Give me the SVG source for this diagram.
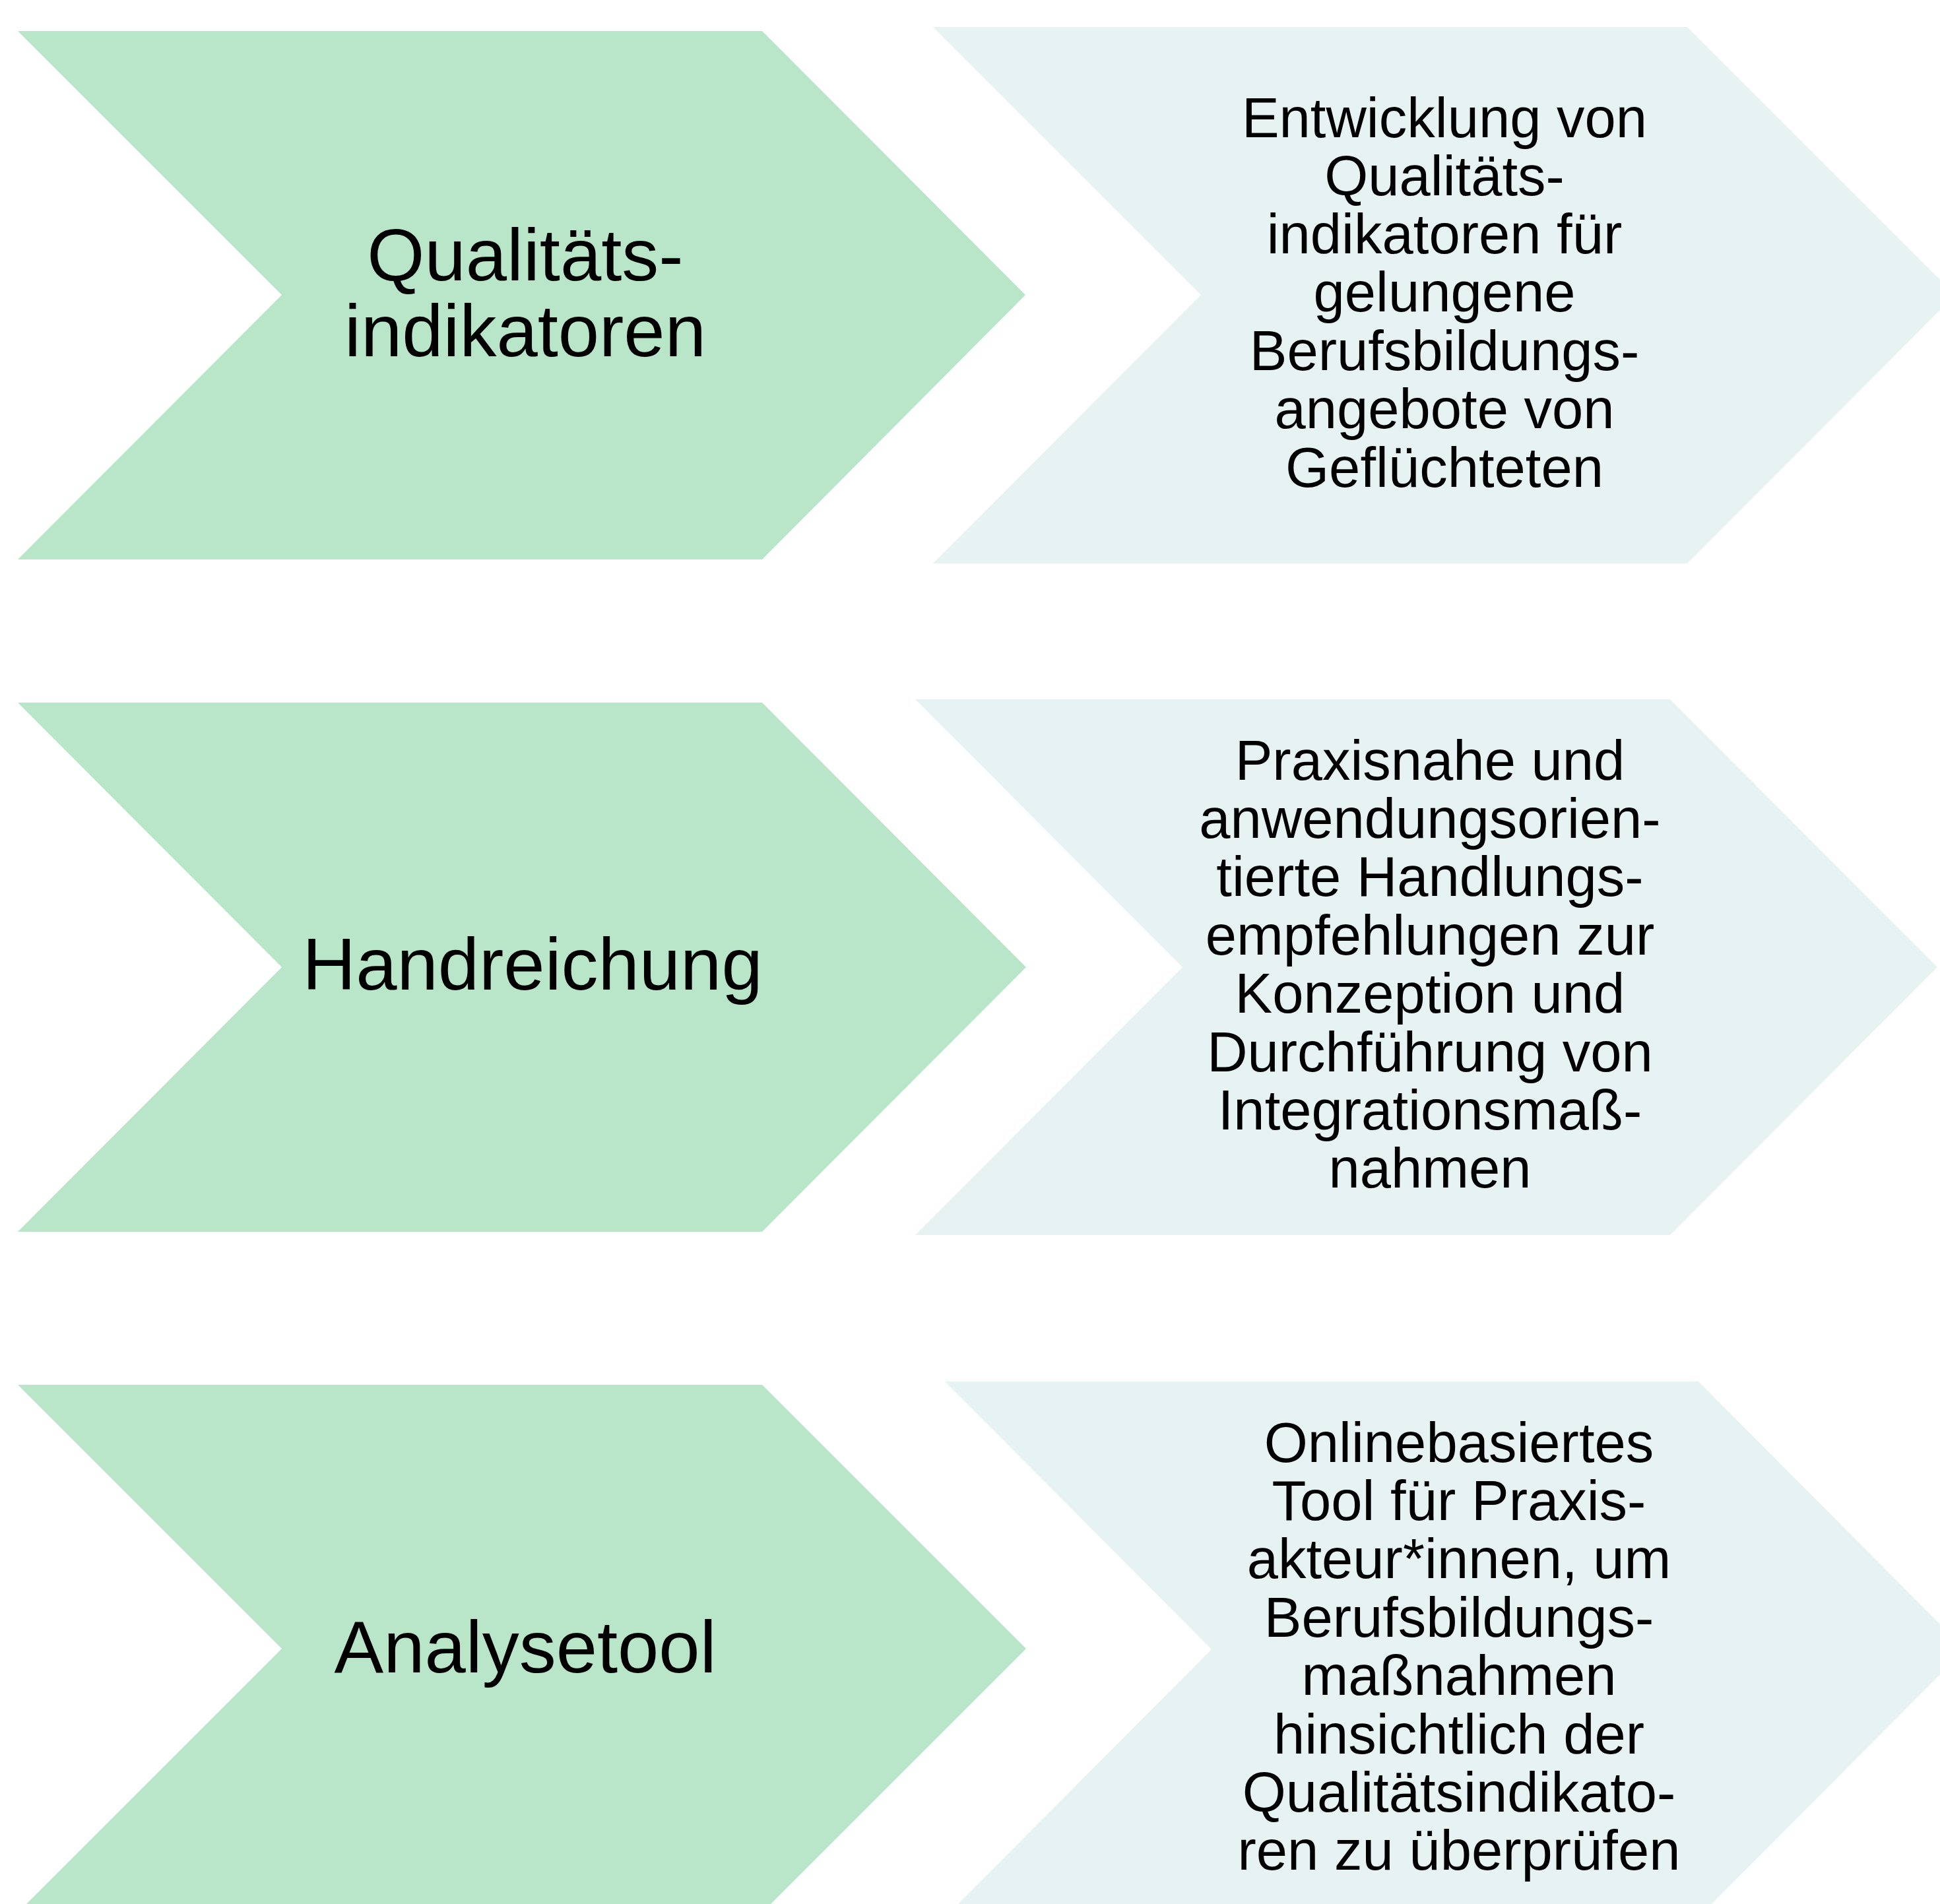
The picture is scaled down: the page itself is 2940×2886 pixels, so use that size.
<svg xmlns="http://www.w3.org/2000/svg" width="2940" height="2886" viewBox="0 0 2940 2886">
  <style>
    .head { fill: #B9E6C9; }
    .body { fill: #E7F3F3; }
    .t { font-family: "Liberation Sans", Arial, sans-serif; fill: #000; text-anchor: middle; }
    .big { font-size: 112px; }
    .small { font-size: 85px; }
  </style>
  <rect width="2940" height="2886" fill="#FFFFFF"/>

  <!-- Row 1 -->
  <g id="node-qualitaetsindikatoren">
    <polygon class="head" points="27,47 1155,47 1554,447 1155,848 27,848 427,447"/>
    <text class="t big"><tspan x="796" y="425">Qualitäts-</tspan><tspan x="796" y="540">indikatoren</tspan></text>
  </g>
  <g id="node-entwicklung">
    <polygon class="body" points="1414,41 2557,41 2963,447 2557,854 1414,854 1820,447"/>
    <text class="t small"><tspan x="2189" y="208">Entwicklung von</tspan><tspan x="2189" y="296">Qualitäts-</tspan><tspan x="2189" y="384">indikatoren für</tspan><tspan x="2189" y="472">gelungene</tspan><tspan x="2189" y="561">Berufsbildungs-</tspan><tspan x="2189" y="649">angebote von</tspan><tspan x="2189" y="738">Geflüchteten</tspan></text>
  </g>

  <!-- Row 2 -->
  <g id="node-handreichung">
    <polygon class="head" points="27,1065 1155,1065 1555,1466 1155,1867 27,1867 427,1466"/>
    <text class="t big" x="807" y="1500">Handreichung</text>
  </g>
  <g id="node-praxisnahe">
    <polygon class="body" points="1387,1060 2531,1060 2936,1466 2531,1872 1387,1872 1792,1466"/>
    <text class="t small"><tspan x="2167" y="1182">Praxisnahe und</tspan><tspan x="2167" y="1270">anwendungsorien-</tspan><tspan x="2167" y="1358">tierte Handlungs-</tspan><tspan x="2167" y="1447">empfehlungen zur</tspan><tspan x="2167" y="1535">Konzeption und</tspan><tspan x="2167" y="1624">Durchführung von</tspan><tspan x="2167" y="1712">Integrationsmaß-</tspan><tspan x="2167" y="1800">nahmen</tspan></text>
  </g>

  <!-- Row 3 -->
  <g id="node-analysetool">
    <polygon class="head" points="27,2099 1155,2099 1555,2499 1155,2899 27,2899 427,2499"/>
    <text class="t big" x="796" y="2535">Analysetool</text>
  </g>
  <g id="node-onlinetool">
    <polygon class="body" points="1432,2094 2574,2094 2978,2500 2574,2906 1432,2906 1836,2500"/>
    <text class="t small"><tspan x="2211" y="2216">Onlinebasiertes</tspan><tspan x="2211" y="2304">Tool für Praxis-</tspan><tspan x="2211" y="2392">akteur*innen, um</tspan><tspan x="2211" y="2481">Berufsbildungs-</tspan><tspan x="2211" y="2569">maßnahmen</tspan><tspan x="2211" y="2658">hinsichtlich der</tspan><tspan x="2211" y="2746">Qualitätsindikato-</tspan><tspan x="2211" y="2834">ren zu überprüfen</tspan></text>
  </g>

  <g id="connectors"/>
</svg>
